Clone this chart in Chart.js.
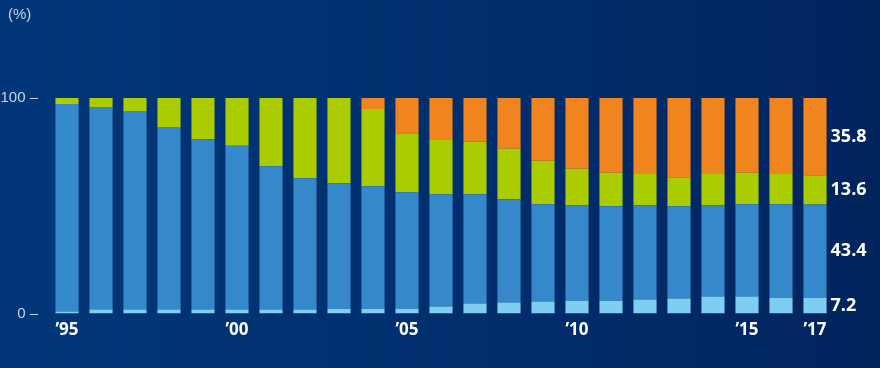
<!DOCTYPE html>
<html>
<head>
<meta charset="utf-8">
<script src="https://cdn.jsdelivr.net/npm/chart.js@4.4.1/dist/chart.umd.min.js"></script>
<style>
  html, body { margin: 0; padding: 0; }
  body {
    width: 880px; height: 368px; overflow: hidden;
    background: linear-gradient(to right, #013779 0%, #012e6d 55%, #01245d 100%);
  }
  #wrap { position: relative; width: 880px; height: 368px; }
</style>
</head>
<body>
<div id="wrap"><canvas id="shareChart" width="880" height="368"></canvas></div>
<script>
// 年（'95〜'17）
var years = ["1995","1996","1997","1998","1999","2000","2001","2002","2003","2004","2005","2006",
             "2007","2008","2009","2010","2011","2012","2013","2014","2015","2016","2017"];
// 目盛りに表示する年
var shownYears = {"1995": "’95", "2000": "’00", "2005": "’05", "2010": "’10", "2015": "’15", "2017": "’17"};

// 各系列（%）下から順に
var lightBlue = [1.0, 1.9, 1.9, 1.9, 1.9, 1.9, 1.9, 1.9, 2.3, 2.3, 2.3, 3.3,
                 4.7, 5.1, 5.6, 6.0, 6.0, 6.5, 7.0, 7.9, 7.9, 7.4, 7.2];
var midBlue   = [96.2, 93.9, 92.1, 84.6, 79.0, 75.9, 66.5, 60.9, 58.2, 56.8, 54.0, 52.0,
                 50.6, 47.9, 45.1, 44.2, 43.8, 43.7, 42.8, 42.3, 42.8, 43.3, 43.4];
var green     = [2.8, 4.2, 6.0, 13.5, 19.1, 22.2, 31.6, 37.2, 39.5, 35.8, 27.4, 25.2,
                 24.5, 23.5, 20.2, 17.0, 15.5, 14.5, 13.5, 14.5, 14.6, 14.0, 13.6];
var orange    = [0, 0, 0, 0, 0, 0, 0, 0, 0, 5.1, 16.3, 19.5,
                 20.2, 23.5, 29.1, 32.8, 34.7, 35.3, 36.7, 35.3, 34.7, 35.3, 35.8];

// y軸の目盛り
var yTicks = [0, 100];

// 右端の数値ラベル
var endLabels = {
  id: 'endLabels',
  afterDatasetsDraw: function(chart) {
    var ctx = chart.ctx;
    var last = years.length - 1;
    ctx.save();
    ctx.fillStyle = '#ffffff';
    ctx.font = 'bold 18px "Open Sans", "Noto Sans", sans-serif';
    ctx.textAlign = 'left';
    ctx.textBaseline = 'middle';
    chart.data.datasets.forEach(function(ds, i) {
      var el = chart.getDatasetMeta(i).data[last];
      var y = (el.y + el.base) / 2;
      var x = el.x + el.width / 2 + 4;
      ctx.fillText(ds.data[last].toFixed(1), x, y);
    });
    // 単位
    ctx.fillStyle = '#c8d2e4';
    ctx.font = '15px "Liberation Sans Narrow", "Liberation Sans", sans-serif';
    ctx.textBaseline = 'top';
    ctx.fillText('(%)', 8, 7);
    ctx.restore();
  }
};

var ctx = document.getElementById("shareChart");
var shareChart = new Chart(ctx, {
  type: 'bar',
  data: {
    labels: years,
    datasets: [
      { label: 'lightBlue', data: lightBlue, backgroundColor: '#80cdf2' },
      { label: 'midBlue',   data: midBlue,   backgroundColor: '#3589cb' },
      { label: 'green',     data: green,     backgroundColor: '#aacc00' },
      { label: 'orange',    data: orange,    backgroundColor: '#f0841f' }
    ]
  },
  options: {
    responsive: false,
    animation: false,
    devicePixelRatio: 1,
    layout: { padding: { top: 98, right: 48, bottom: 30, left: 0 } },
    datasets: { bar: { barPercentage: 0.68, categoryPercentage: 1.0, borderWidth: 0 } },
    plugins: { legend: { display: false }, tooltip: { enabled: false } },
    scales: {
      x: {
        stacked: true,
        offset: true,
        grid: { display: false },
        border: { display: false },
        ticks: {
          autoSkip: false,
          maxRotation: 0,
          padding: -2,
          color: '#ffffff',
          font: { family: '"Open Sans", "Noto Sans", sans-serif', size: 17, weight: 'bold' },
          callback: function(v, i) { return shownYears[years[i]] || ''; }
        }
      },
      y: {
        stacked: true,
        min: 0,
        max: 100,
        afterFit: function(scale) { scale.width = 50; },
        afterBuildTicks: function(scale) { scale.ticks = yTicks.map(function(v) { return { value: v }; }); },
        grid: { display: false, drawTicks: false },
        border: { display: false },
        ticks: {
          padding: 12,
          color: '#c8d2e4',
          font: { family: '"Liberation Sans Narrow", "Liberation Sans", sans-serif', size: 15 },
          callback: function(v) { return v + ' –'; }
        }
      }
    }
  },
  plugins: [endLabels]
});
</script>
</body>
</html>
